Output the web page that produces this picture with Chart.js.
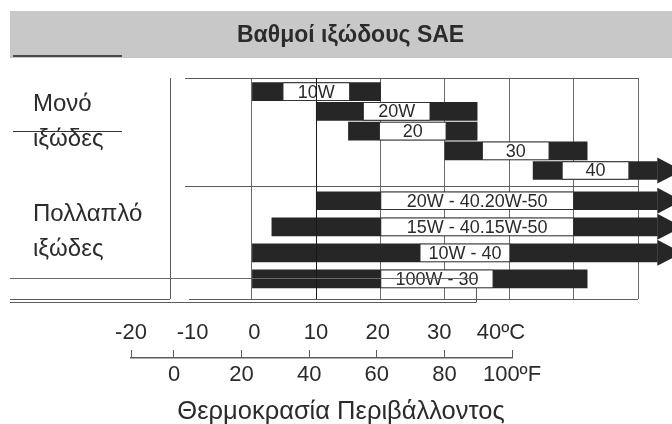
<!DOCTYPE html>
<html lang="el">
<head>
<meta charset="utf-8">
<title>Βαθμοί ιξώδους SAE</title>
<script src="https://cdn.jsdelivr.net/npm/chart.js@4.4.1/dist/chart.umd.min.js"></script>
<style>
  html, body { margin: 0; padding: 0; background: #fff; }
  .stage { position: relative; width: 672px; height: 424px; overflow: hidden;
           font-family: "Liberation Sans", Arial, sans-serif; color: #2b2b2b; }
  .stage canvas { position: absolute; left: 0; top: 0; }
  .band { position: absolute; left: 10px; top: 11px; width: 662px; height: 47px; background: #c8c8c8; }
  .band-rule { position: absolute; left: 13px; top: 55px; width: 109px; height: 2px; background: #4a4a4a; }
  .title { position: absolute; left: 237px; top: 23px; font-weight: bold; font-size: 23px; line-height: 1; white-space: nowrap; }
  .side { position: absolute; left: 33px; font-size: 24px; line-height: 1; white-space: nowrap; }
  .strike { position: absolute; left: 13px; top: 131px; width: 109px; height: 1px; background: #333; }
  .axis-title { position: absolute; left: 141px; width: 400px; top: 398px; text-align: center;
                font-size: 25.5px; line-height: 1; white-space: nowrap; }
</style>
</head>
<body>
<div class="stage">
  <div class="band"></div>
  <div class="band-rule"></div>
  <canvas id="grid" width="672" height="424"></canvas>
  <canvas id="ruler" width="672" height="424"></canvas>
  <div class="title">Βαθμοί ιξώδους SAE</div>
  <div class="side" style="top:91px">Μονό</div>
  <div class="side" style="top:126px">ιξώδες</div>
  <div class="strike"></div>
  <div class="side" style="top:201px">Πολλαπλό</div>
  <div class="side" style="top:236px">ιξώδες</div>
  <div class="axis-title">Θερμοκρασία Περιβάλλοντος</div>
</div>
<script>
// Μονόβαθμα: μαύρη μπάρα = εύρος χρήσης, λευκό κουτί = ετικέτα βαθμού (μονάδες πλέγματος)
const SINGLE_GRADES = ["10W", "20W", "20", "30", "40"];
const SINGLE_RANGE = [[0, 20], [10, 35], [15, 35], [30, 52.1], [43.7, 63]];
const SINGLE_BOX = [[4.8, 15.2], [17.3, 27.7], [19.8, 30.2], [35.8, 46.2], [48.2, 58.6]];
const SINGLE_ARROW = [false, false, false, false, true];

// Πολύβαθμα
const MULTI_GRADES = ["20W - 40.20W-50", "15W - 40.15W-50", "10W - 40", "100W - 30"];
const MULTI_RANGE = [[10, 63], [3.1, 63], [0, 63], [0, 52.1]];
const MULTI_BOX = [[20, 50], [20, 50], [26.1, 40.1], [20, 37.5]];
const MULTI_ARROW = [true, true, true, false];

// κλίμακες
const GRID_TICKS = [0, 10, 20, 30, 40, 50, 60];
const CELSIUS_TICKS = [-20, -10, 0, 10, 20, 30, 40];
const FAHRENHEIT_TICKS = [0, 20, 40, 60, 80, 100];

Chart.defaults.font.family = '"Liberation Sans", Arial, sans-serif';
Chart.defaults.color = "#2b2b2b";

const INK = "#262626";
const RULE = "#5c5c5c";
const DARK_GRID = 10; // η γραμμή που στο πρωτότυπο περνά πάνω από το κουτί 10W

function rows(ranges) {
  return ranges.map((r, i) => ({ x: r, y: i }));
}

function fixedTicks(values) {
  return (scale) => {
    scale.ticks = values.map((v) => ({ value: v }));
  };
}

function fixedHeight(h) {
  return (scale) => {
    scale.height = h;
  };
}

function line(ctx, x1, y1, x2, y2, color, width) {
  ctx.save();
  ctx.strokeStyle = color;
  ctx.lineWidth = width || 1;
  ctx.beginPath();
  ctx.moveTo(x1, y1);
  ctx.lineTo(x2, y2);
  ctx.stroke();
  ctx.restore();
}

// πλαίσιο, ετικέτες στα κουτιά, βέλη
const framePlugin = {
  id: "frame",
  beforeDatasetsDraw(chart) {
    const { ctx, chartArea: a, scales } = chart;
    const split = (scales.ys.getPixelForValue(SINGLE_GRADES.length - 1) + scales.ym.getPixelForValue(0)) / 2;
    line(ctx, a.left, a.top + 0.5, a.right, a.top + 0.5, RULE);
    line(ctx, a.left, Math.round(split) + 0.5, a.right, Math.round(split) + 0.5, RULE);
    line(ctx, a.left + 4, a.bottom + 0.5, a.right, a.bottom + 0.5, RULE);
    // στήλη ετικετών αριστερά (σάρωση του πρωτοτύπου)
    line(ctx, a.left - 14.5, a.top, a.left - 14.5, a.bottom, RULE);
    line(ctx, 10, a.bottom + 0.5, a.left - 15, a.bottom + 0.5, RULE);
    line(ctx, 10, a.bottom + 3.5, 476, a.bottom + 3.5, RULE);
    line(ctx, 476.5, a.bottom - 11, 476.5, a.bottom + 3.5, RULE);
  },
  afterDatasetsDraw(chart) {
    const { ctx, chartArea: a, scales } = chart;
    chart.data.datasets.forEach((ds, i) => {
      const meta = chart.getDatasetMeta(i);
      meta.data.forEach((bar, j) => {
        if (ds.arrows && ds.arrows[j]) {
          ctx.save();
          ctx.fillStyle = INK;
          ctx.beginPath();
          ctx.moveTo(bar.x, bar.y - 13);
          ctx.lineTo(bar.x + 25, bar.y);
          ctx.lineTo(bar.x, bar.y + 13);
          ctx.closePath();
          ctx.fill();
          ctx.restore();
        }
        if (ds.texts) {
          ctx.save();
          ctx.fillStyle = "#2b2b2b";
          ctx.font = '18px "Liberation Sans", Arial, sans-serif';
          ctx.textAlign = "center";
          ctx.textBaseline = "middle";
          ctx.fillText(ds.texts[j], (bar.x + bar.base) / 2, bar.y + 1);
          ctx.restore();
        }
      });
    });
    // η σκούρα κάθετη γραμμή είναι πάνω από τα κουτιά
    const xDark = Math.round(scales.x.getPixelForValue(DARK_GRID)) + 0.5;
    line(ctx, xDark, a.top, xDark, a.bottom, "#1a1a1a");
    // γραμμή που διαπερνά τη γραμμή 100W - 30
    const yStrike = Math.round(scales.ym.getPixelForValue(MULTI_GRADES.length - 1)) - 0.5;
    line(ctx, 10, yStrike, 476, yStrike, "#6a6a6a");
  },
};

new Chart(document.getElementById("grid"), {
  type: "bar",
  data: {
    datasets: [
      { data: rows(SINGLE_RANGE), yAxisID: "ys", backgroundColor: INK, arrows: SINGLE_ARROW, order: 2, clip: false },
      { data: rows(SINGLE_BOX), yAxisID: "ys", backgroundColor: "#fff", borderColor: "#333", borderWidth: 1, texts: SINGLE_GRADES, order: 1, clip: false },
      { data: rows(MULTI_RANGE), yAxisID: "ym", backgroundColor: INK, arrows: MULTI_ARROW, order: 2, clip: false },
      { data: rows(MULTI_BOX), yAxisID: "ym", backgroundColor: "#fff", borderColor: "#333", borderWidth: 1, texts: MULTI_GRADES, order: 1, clip: false },
    ],
  },
  options: {
    indexAxis: "y",
    responsive: false,
    animation: false,
    events: [],
    layout: { padding: { left: 185, right: 34, top: 78, bottom: 125 } },
    datasets: { bar: { barThickness: 18, grouped: false, borderSkipped: false } },
    plugins: { legend: { display: false }, tooltip: { enabled: false } },
    scales: {
      x: {
        type: "linear",
        min: -10.4,
        max: 60,
        afterBuildTicks: fixedTicks(GRID_TICKS),
        ticks: { display: false },
        border: { display: false },
        grid: {
          drawTicks: false,
          color: (c) => (c.tick && c.tick.value === DARK_GRID ? "#1a1a1a" : "#6a6a6a"),
        },
      },
      // δύο κρυφοί άξονες: διαφορετικό βήμα γραμμών για μονό / πολλαπλό ιξώδες
      ys: { type: "linear", axis: "y", reverse: true, offset: false, grace: 0, min: -0.695, max: 10.52, display: false },
      ym: { type: "linear", axis: "y", reverse: true, offset: false, grace: 0, min: -4.71, max: 3.77, display: false },
    },
  },
  plugins: [framePlugin],
});

// χάρακας θερμοκρασίας °C / °F
new Chart(document.getElementById("ruler"), {
  type: "line",
  data: { datasets: [] },
  options: {
    responsive: false,
    animation: false,
    events: [],
    layout: { padding: { left: 131, right: 160, top: 320, bottom: 36 } },
    plugins: { legend: { display: false }, tooltip: { enabled: false } },
    scales: {
      c: {
        type: "linear",
        axis: "x",
        position: "top",
        min: -20,
        max: 41.78,
        afterBuildTicks: fixedTicks(CELSIUS_TICKS),
        afterFit: fixedHeight(30),
        border: { display: false },
        grid: { drawTicks: false, color: (c) => (c.index === 0 ? RULE : "transparent") },
        ticks: {
          autoSkip: false,
          maxRotation: 0,
          padding: 4,
          font: { size: 22 },
          callback: (v) => (v === 40 ? "40ºC" : String(v)),
        },
      },
      f: {
        type: "linear",
        axis: "x",
        position: "bottom",
        min: -12.72,
        max: 100,
        afterBuildTicks: fixedTicks(FAHRENHEIT_TICKS),
        afterFit: fixedHeight(30),
        border: { color: RULE, width: 1.5 },
        grid: { drawTicks: false, color: RULE },
        ticks: {
          autoSkip: false,
          maxRotation: 0,
          padding: 4,
          font: { size: 22 },
          callback: (v) => (v === 100 ? "100ºF" : String(v)),
        },
      },
    },
  },
});
</script>
</body>
</html>
